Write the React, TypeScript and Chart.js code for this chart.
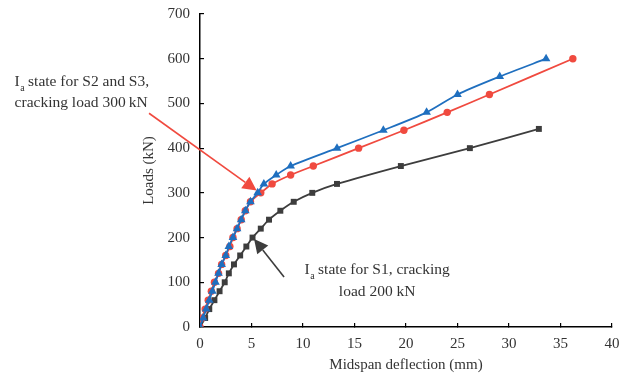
import React, { useEffect, useRef } from "react";
import { Chart, registerables } from "chart.js";

Chart.register(...registerables);

// S1 (black squares)
const s1X = [0, 0.5, 0.9, 1.4, 1.9, 2.4, 2.8, 3.3, 3.9, 4.5, 5.1, 5.9, 6.7, 7.8, 9.1, 10.9, 13.3, 19.5, 26.2, 32.9];
const s1Y = [0, 20, 40, 60, 80, 100, 120, 140, 160, 180, 200, 220, 240, 260, 280, 300, 320, 360, 400, 443];
// S2 (red circles)
const s2X = [0, 0.2, 0.5, 0.8, 1.1, 1.4, 1.8, 2.1, 2.5, 2.9, 3.2, 3.6, 4.0, 4.4, 4.9, 5.9, 7.0, 8.8, 11.0, 15.4, 19.8, 24.0, 28.1, 36.2];
const s2Y = [0, 20, 40, 60, 80, 100, 120, 140, 160, 180, 200, 220, 240, 260, 280, 300, 320, 340, 360, 400, 440, 480, 520, 600];
// S3 (blue triangles)
const s3X = [0, 0.3, 0.6, 0.9, 1.2, 1.5, 1.8, 2.1, 2.5, 2.8, 3.2, 3.6, 4.0, 4.4, 4.9, 5.6, 6.2, 7.4, 8.8, 13.3, 17.8, 22.0, 25.0, 29.1, 33.6];
const s3Y = [0, 20, 40, 60, 80, 100, 120, 140, 160, 180, 200, 220, 240, 260, 280, 300, 320, 340, 360, 400, 440, 480, 520, 560, 600];

const xTitle = "Midspan deflection (mm)";
const yTitle = "Loads (kN)";
const xMin = 0, xMax = 40, xStep = 5;
const yMin = 0, yMax = 700, yStep = 100;

// annotations (data coordinates)
const noteS23Lines = ["state for S2 and S3,", "cracking load 300\u2009kN"];
const noteS23Pos = [-18, 548, 501]; // x, y line1, y line2
const arrowS23 = [-4.95, 478, 5.5, 305]; // tail x,y, tip x,y
const noteS1Lines = ["state for S1, cracking", "load 200 kN"];
const noteS1Pos = [17.2, 127, 78];
const arrowS1 = [8.16, 112, 5.25, 197];

const FONT = "'Liberation Serif', 'Times New Roman', serif";
const TEXT = "#333333";

const toPts = (xs: number[], ys: number[]) => xs.map((x, i) => ({ x, y: ys[i] }));

function drawArrow(ctx: CanvasRenderingContext2D, x1: number, y1: number, x2: number, y2: number, color: string) {
  const ang = Math.atan2(y2 - y1, x2 - x1);
  const hl = 14, hw = 7;
  const bx = x2 - hl * Math.cos(ang), by = y2 - hl * Math.sin(ang);
  ctx.save();
  ctx.strokeStyle = color;
  ctx.fillStyle = color;
  ctx.lineWidth = 1.6;
  ctx.beginPath();
  ctx.moveTo(x1, y1);
  ctx.lineTo(bx, by);
  ctx.stroke();
  ctx.beginPath();
  ctx.moveTo(x2, y2);
  ctx.lineTo(bx + hw * Math.sin(ang), by - hw * Math.cos(ang));
  ctx.lineTo(bx - hw * Math.sin(ang), by + hw * Math.cos(ang));
  ctx.closePath();
  ctx.fill();
  ctx.restore();
}

function drawIa(ctx: CanvasRenderingContext2D, x: number, y: number, rest: string, center: boolean) {
  ctx.font = `15.5px ${FONT}`;
  const wI = ctx.measureText("I").width;
  const wr = ctx.measureText(" " + rest).width;
  ctx.font = `10px ${FONT}`;
  const wa = ctx.measureText("a").width;
  const total = wI + wa + wr;
  let sx = center ? x - total / 2 : x;
  ctx.textAlign = "left";
  ctx.textBaseline = "middle";
  ctx.fillStyle = TEXT;
  ctx.font = `15.5px ${FONT}`;
  ctx.fillText("I", sx, y);
  ctx.font = `10px ${FONT}`;
  ctx.fillText("a", sx + wI + 0.5, y + 6);
  ctx.font = `15.5px ${FONT}`;
  ctx.fillText(" " + rest, sx + wI + wa, y);
}

const annotations = {
  id: "annotations",
  afterDraw(chart: any) {
    const ctx = chart.ctx as CanvasRenderingContext2D;
    const xs = chart.scales.x, ys = chart.scales.y;
    const px = (v: number) => xs.getPixelForValue(v);
    const py = (v: number) => ys.getPixelForValue(v);
    drawArrow(ctx, px(arrowS23[0]), py(arrowS23[1]), px(arrowS23[2]), py(arrowS23[3]), "#f04a3f");
    drawArrow(ctx, px(arrowS1[0]), py(arrowS1[1]), px(arrowS1[2]), py(arrowS1[3]), "#3d3d3d");
    ctx.save();
    drawIa(ctx, px(noteS23Pos[0]), py(noteS23Pos[1]), noteS23Lines[0], false);
    ctx.font = `15.5px ${FONT}`;
    ctx.textAlign = "left";
    ctx.textBaseline = "middle";
    ctx.fillStyle = TEXT;
    ctx.fillText(noteS23Lines[1], px(noteS23Pos[0]), py(noteS23Pos[2]));
    drawIa(ctx, px(noteS1Pos[0]), py(noteS1Pos[1]), noteS1Lines[0], true);
    ctx.font = `15.5px ${FONT}`;
    ctx.textAlign = "center";
    ctx.textBaseline = "middle";
    ctx.fillStyle = TEXT;
    ctx.fillText(noteS1Lines[1], px(noteS1Pos[0]), py(noteS1Pos[2]));
    ctx.restore();
  },
};

export default function App() {
  const ref = useRef<HTMLCanvasElement | null>(null);
  useEffect(() => {
    document.body.style.margin = "0";
    if (!ref.current) return;
    const common = { borderWidth: 1.8, tension: 0.25, pointBorderWidth: 0 };
    const chart = new Chart(ref.current, {
      type: "line",
      data: {
        datasets: [
          {
            label: "S3",
            data: toPts(s3X, s3Y),
            borderColor: "#1f6fbf",
            backgroundColor: "#1f6fbf",
            pointStyle: "triangle",
            pointRadius: 5,
            order: 0,
            ...common,
          },
          {
            label: "S2",
            data: toPts(s2X, s2Y),
            borderColor: "#f04a3f",
            backgroundColor: "#f04a3f",
            pointStyle: "circle",
            pointRadius: 3.7,
            order: 1,
            ...common,
          },
          {
            label: "S1",
            data: toPts(s1X, s1Y),
            borderColor: "#3d3d3d",
            backgroundColor: "#3d3d3d",
            pointStyle: "rect",
            pointRadius: 4.2,
            order: 2,
            ...common,
          },
        ],
      },
      options: {
        responsive: false,
        animation: false,
        layout: { padding: { left: 140, top: 14, right: 8, bottom: 4 } },
        plugins: { legend: { display: false }, tooltip: { enabled: false } },
        scales: {
          x: {
            type: "linear",
            min: xMin,
            max: xMax,
            afterFit: (s: any) => { s.height = 47; s.paddingLeft = 0; s.paddingRight = 0; },
            ticks: { stepSize: xStep, color: TEXT, font: { family: FONT, size: 15 }, padding: 12, maxRotation: 0 },
            grid: { drawOnChartArea: false, drawTicks: true, tickLength: -4, color: "#000", lineWidth: 1.2 },
            border: { display: true, color: "#000", width: 1.5 },
            title: { display: true, text: xTitle, color: TEXT, font: { family: FONT, size: 15 }, padding: 0 },
          },
          y: {
            type: "linear",
            min: yMin,
            max: yMax,
            afterFit: (s: any) => { s.width = 60; s.paddingTop = 0; s.paddingBottom = 0; },
            ticks: { stepSize: yStep, color: TEXT, font: { family: FONT, size: 15 }, padding: 14 },
            grid: { drawOnChartArea: false, drawTicks: true, tickLength: -4, color: "#000", lineWidth: 1.2 },
            border: { display: true, color: "#000", width: 1.5 },
            title: { display: true, text: yTitle, color: TEXT, font: { family: FONT, size: 15 }, padding: 0 },
          },
        },
      },
      plugins: [annotations],
    });
    return () => chart.destroy();
  }, []);
  return (
    <div style={{ width: 620, height: 378, background: "#fff" }}>
      <canvas ref={ref} width={620} height={378} />
    </div>
  );
}
